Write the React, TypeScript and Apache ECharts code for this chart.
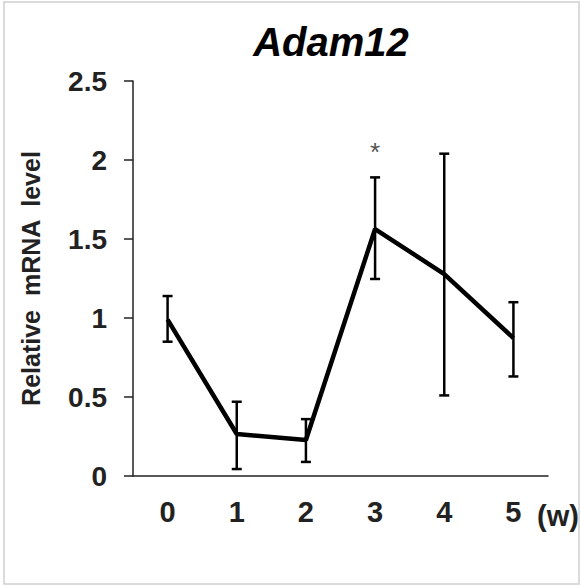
import React, { useEffect, useRef } from "react";
import * as echarts from "echarts";

const categories = ["0", "1", "2", "3", "4", "5"];
const means = [0.99, 0.266, 0.228, 1.563, 1.278, 0.873];
const upper = [1.139, 0.47, 0.36, 1.89, 2.04, 1.1];
const lower = [0.85, 0.044, 0.089, 1.247, 0.51, 0.63];
const sigMarks = ["", "", "", "*", "", ""];
const sigY = [0, 0, 0, 2.05, 0, 0];
const yTicks = { min: 0, max: 2.5, interval: 0.5 };

const FONT = "'Liberation Sans', Arial, sans-serif";

export default function App() {
  const ref = useRef<HTMLDivElement>(null);
  useEffect(() => {
    if (!ref.current) return;
    const chart = echarts.init(ref.current, undefined, { renderer: "svg" });
    const errData = categories.map((_, i) => [i, lower[i], upper[i]]);
    const sigData = categories
      .map((_, i) => ({ value: [i, sigY[i]], mark: sigMarks[i] }))
      .filter((d) => d.mark !== "");
    chart.setOption({
      animation: false,
      backgroundColor: "#fff",
      grid: { left: 133, right: 33, top: 81, bottom: 110, containLabel: false },
      xAxis: {
        type: "category",
        data: categories,
        boundaryGap: true,
        axisLine: { lineStyle: { color: "#222", width: 1.5 } },
        axisTick: { show: false },
        axisLabel: {
          color: "#222",
          fontSize: 29,
          fontFamily: FONT,
          fontWeight: "bold",
          margin: 21,
        },
      },
      yAxis: {
        type: "value",
        min: yTicks.min,
        max: yTicks.max,
        interval: yTicks.interval,
        name: "Relative  mRNA  level",
        nameLocation: "middle",
        nameGap: 90,
        nameTextStyle: { color: "#222", fontSize: 25, fontFamily: FONT, fontWeight: "bold" },
        splitLine: { show: false },
        axisLine: { show: true, lineStyle: { color: "#222", width: 1.5 } },
        axisTick: { show: true, length: 9, lineStyle: { color: "#222", width: 1.5 } },
        axisLabel: {
          color: "#222",
          fontSize: 28,
          fontFamily: FONT,
          fontWeight: "bold",
          margin: 26,
        },
      },
      graphic: [
        {
          type: "rect",
          shape: { x: 4, y: 2, width: 575, height: 582 },
          style: { fill: "none", stroke: "#cfcfcf", lineWidth: 1.5 },
          silent: true,
        },
        {
          type: "text",
          x: 331,
          y: 42,
          style: {
            text: "Adam12",
            fontSize: 40,
            fontStyle: "italic",
            fontWeight: "bold",
            fontFamily: FONT,
            fill: "#000",
            textAlign: "center",
            textVerticalAlign: "middle",
          },
        },
        {
          type: "text",
          x: 537,
          y: 516,
          style: {
            text: "(w)",
            fontSize: 29,
            fontWeight: "bold",
            fontFamily: FONT,
            fill: "#222",
            textAlign: "left",
            textVerticalAlign: "middle",
          },
        },
      ],
      series: [
        {
          type: "custom",
          data: errData,
          encode: { x: 0, y: [1, 2] },
          z: 2,
          renderItem: (_params: any, api: any) => {
            const x = api.value(0);
            const lo = api.coord([x, api.value(1)]);
            const hi = api.coord([x, api.value(2)]);
            const w = 5;
            const style = { stroke: "#000", lineWidth: 2.5 };
            return {
              type: "group",
              children: [
                { type: "line", shape: { x1: hi[0], y1: hi[1], x2: lo[0], y2: lo[1] }, style },
                { type: "line", shape: { x1: hi[0] - w, y1: hi[1], x2: hi[0] + w, y2: hi[1] }, style },
                { type: "line", shape: { x1: lo[0] - w, y1: lo[1], x2: lo[0] + w, y2: lo[1] }, style },
              ],
            };
          },
        },
        {
          type: "line",
          data: means,
          z: 3,
          symbol: "none",
          lineStyle: { color: "#000", width: 4.5 },
        },
        {
          type: "scatter",
          data: sigData,
          symbolSize: 0,
          z: 4,
          label: {
            show: true,
            position: "inside",
            formatter: (p: any) => p.data.mark,
            fontSize: 26,
            fontFamily: FONT,
            color: "#222",
          },
        },
      ],
    });
    return () => chart.dispose();
  }, []);
  return (
    <div
      ref={ref}
      style={{ position: "fixed", left: 0, top: 0, width: 581, height: 586 }}
    />
  );
}
